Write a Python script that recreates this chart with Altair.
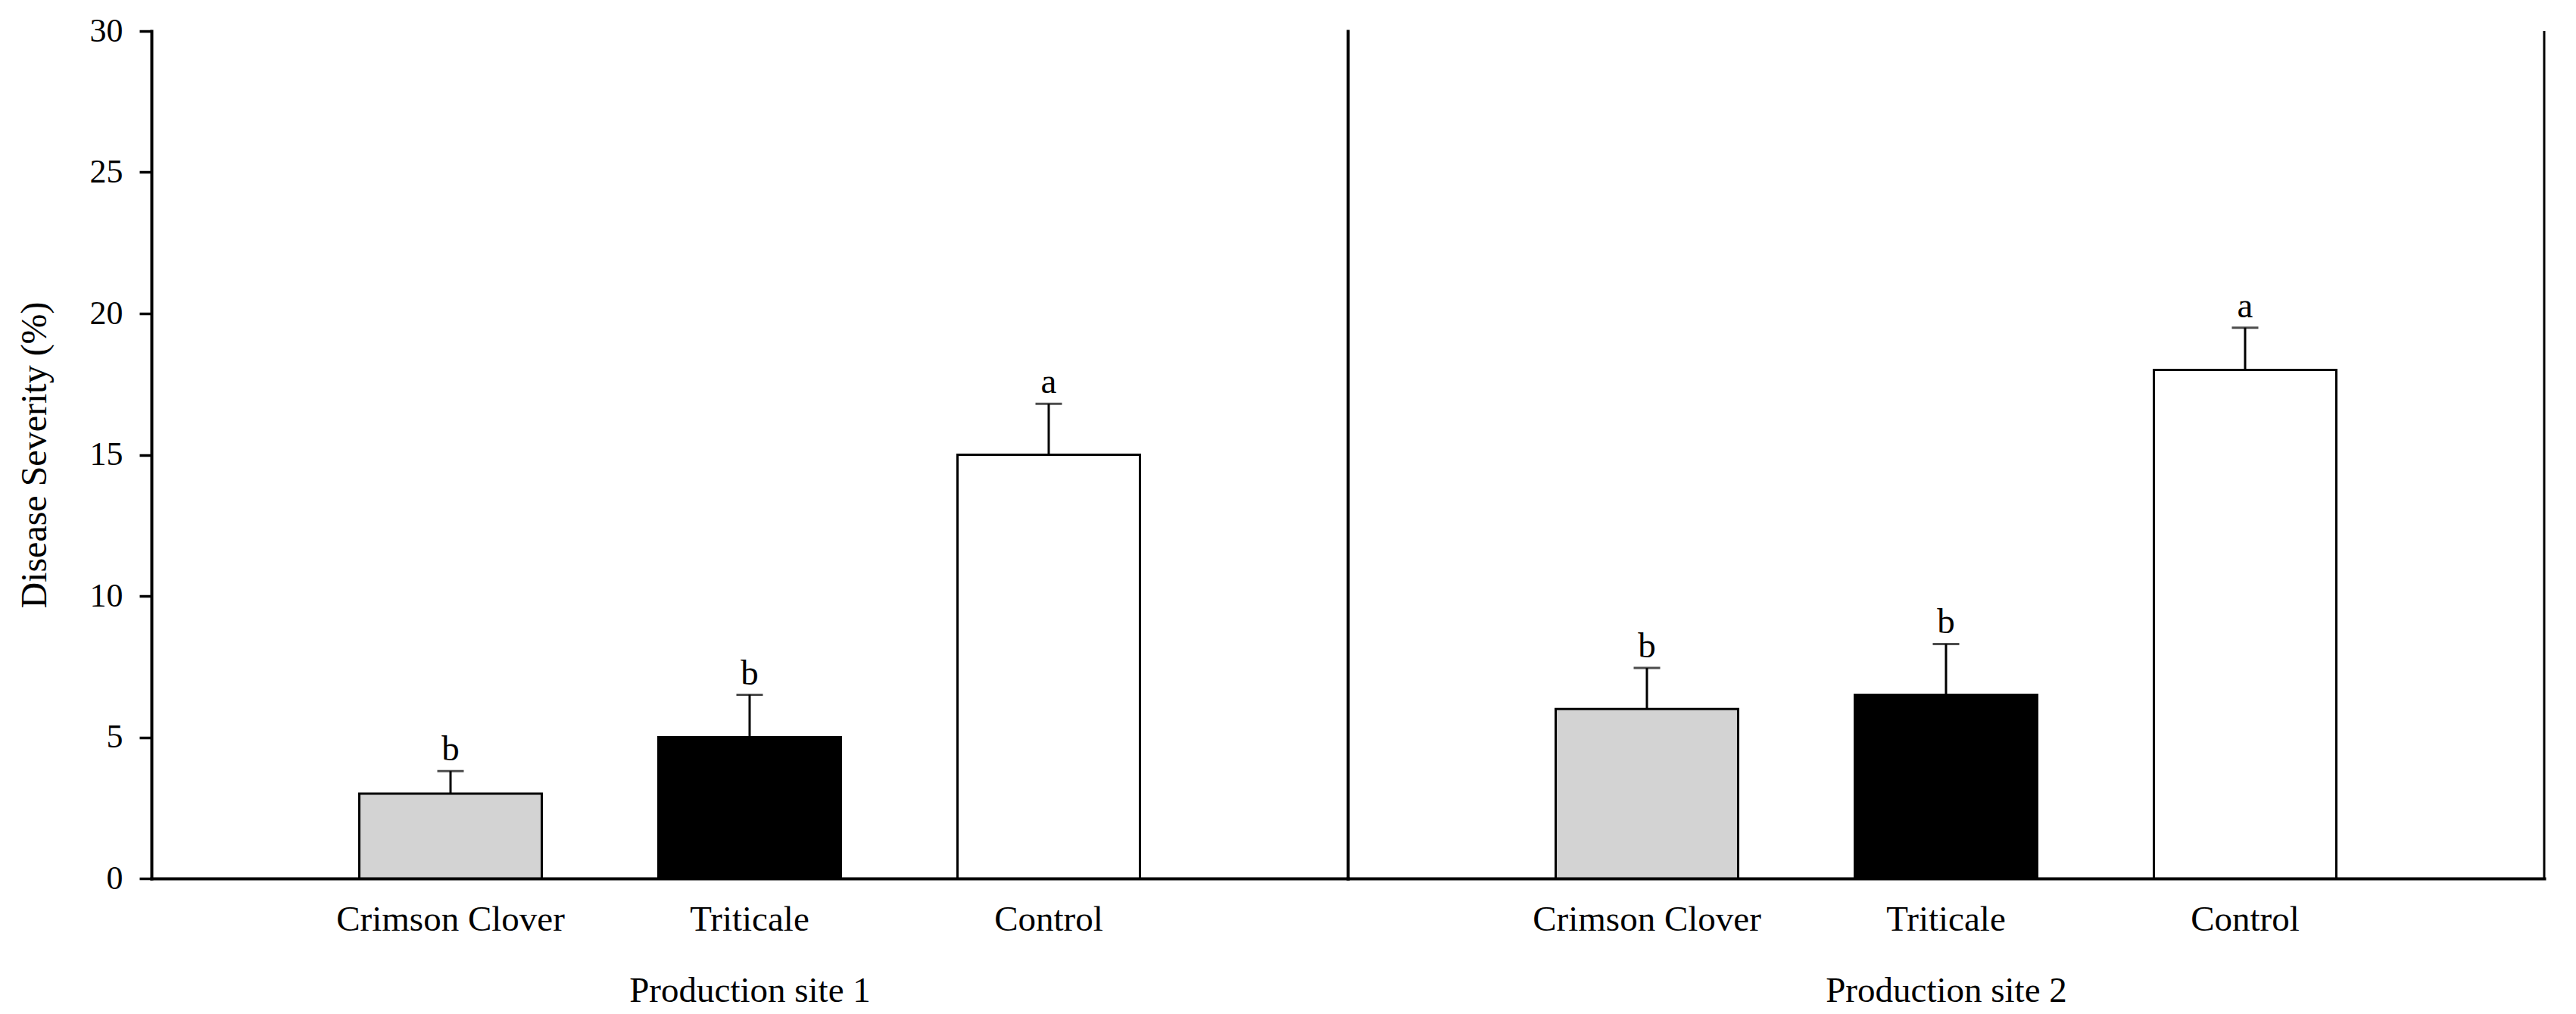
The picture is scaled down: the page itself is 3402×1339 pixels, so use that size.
import altair as alt
import pandas as pd

# ---- data ----
sites = ["Production site 1"] * 3 + ["Production site 2"] * 3
treatments = ["Crimson Clover", "Triticale", "Control"]
treatment_col = treatments * 2
severity = [3.0, 5.0, 15.0, 6.0, 6.5, 18.0]
std_err = [0.8, 1.5, 1.8, 1.45, 1.8, 1.5]
letters = ["b", "b", "a", "b", "b", "a"]
y_ticks = [0, 5, 10, 15, 20, 25, 30]
fill_colors = ["#d3d3d3", "#000000", "#ffffff"]

df = pd.DataFrame({
    "site": sites,
    "treatment": treatment_col,
    "severity": severity,
    "se": std_err,
    "letter": letters,
})
df["upper"] = df["severity"] + df["se"]

FONT = "Liberation Serif"
W, H = 1580, 1119


def panel(site, first):
    d = df[df["site"] == site]
    base = alt.Chart(d)
    xscale = alt.Scale(paddingInner=0.39, paddingOuter=0.695)
    xaxis = alt.Axis(
        title=site, labelAngle=0, ticks=False, domainWidth=4, domainColor="black",
        labelFont=FONT, labelFontSize=47, labelColor="black", labelPadding=31, labelLimit=0,
        titleFont=FONT, titleFontSize=47, titleFontWeight="normal", titleColor="black",
        titlePadding=48,
    )
    if first:
        yaxis = alt.Axis(
            title="Disease Severity (%)", values=y_ticks, grid=False,
            tickSize=16, tickWidth=3.5, tickColor="black",
            domainWidth=4, domainColor="black",
            labelFont=FONT, labelFontSize=44, labelColor="black", labelPadding=22,
            titleFont=FONT, titleFontSize=48, titleFontWeight="normal", titleColor="black",
            titlePadding=48,
        )
    else:
        yaxis = alt.Axis(title=None, labels=False, ticks=False, grid=False,
                         domainWidth=4, domainColor="black")
    yscale = alt.Scale(domain=[0, 30], nice=False)

    bars = base.mark_bar(stroke="black", strokeWidth=3).encode(
        x=alt.X("treatment:N", sort=treatments, scale=xscale, axis=xaxis),
        y=alt.Y("severity:Q", scale=yscale, axis=yaxis),
        fill=alt.Fill("treatment:N", scale=alt.Scale(domain=treatments, range=fill_colors), legend=None),
    )
    err = base.mark_rule(color="black", strokeWidth=3).encode(
        x=alt.X("treatment:N", sort=treatments),
        y=alt.Y("severity:Q"),
        y2="upper:Q",
    )
    cap = base.mark_tick(color="black", thickness=3, size=35, orient="horizontal").encode(
        x=alt.X("treatment:N", sort=treatments),
        y=alt.Y("upper:Q"),
    )
    txt = base.mark_text(font=FONT, fontSize=47, baseline="bottom", dy=-4, color="black").encode(
        x=alt.X("treatment:N", sort=treatments),
        y=alt.Y("upper:Q"),
        text="letter:N",
    )
    layers = [bars, err, cap, txt]
    if not first:
        edge = alt.Chart(pd.DataFrame({"z": [0]})).mark_rule(color="black", strokeWidth=3).encode(
            x=alt.value(W), y=alt.value(0), y2=alt.value(H)
        )
        layers.append(edge)
    return alt.layer(*layers).properties(width=W, height=H)


chart = alt.hconcat(
    panel("Production site 1", True),
    panel("Production site 2", False),
    spacing=0,
).properties(
    padding={"left": 14, "top": 11, "right": 10, "bottom": 10},
).configure_view(stroke=None).configure_axis(domainCap="square")

chart.save("out.html", embed_options={"renderer": "svg", "actions": False})
